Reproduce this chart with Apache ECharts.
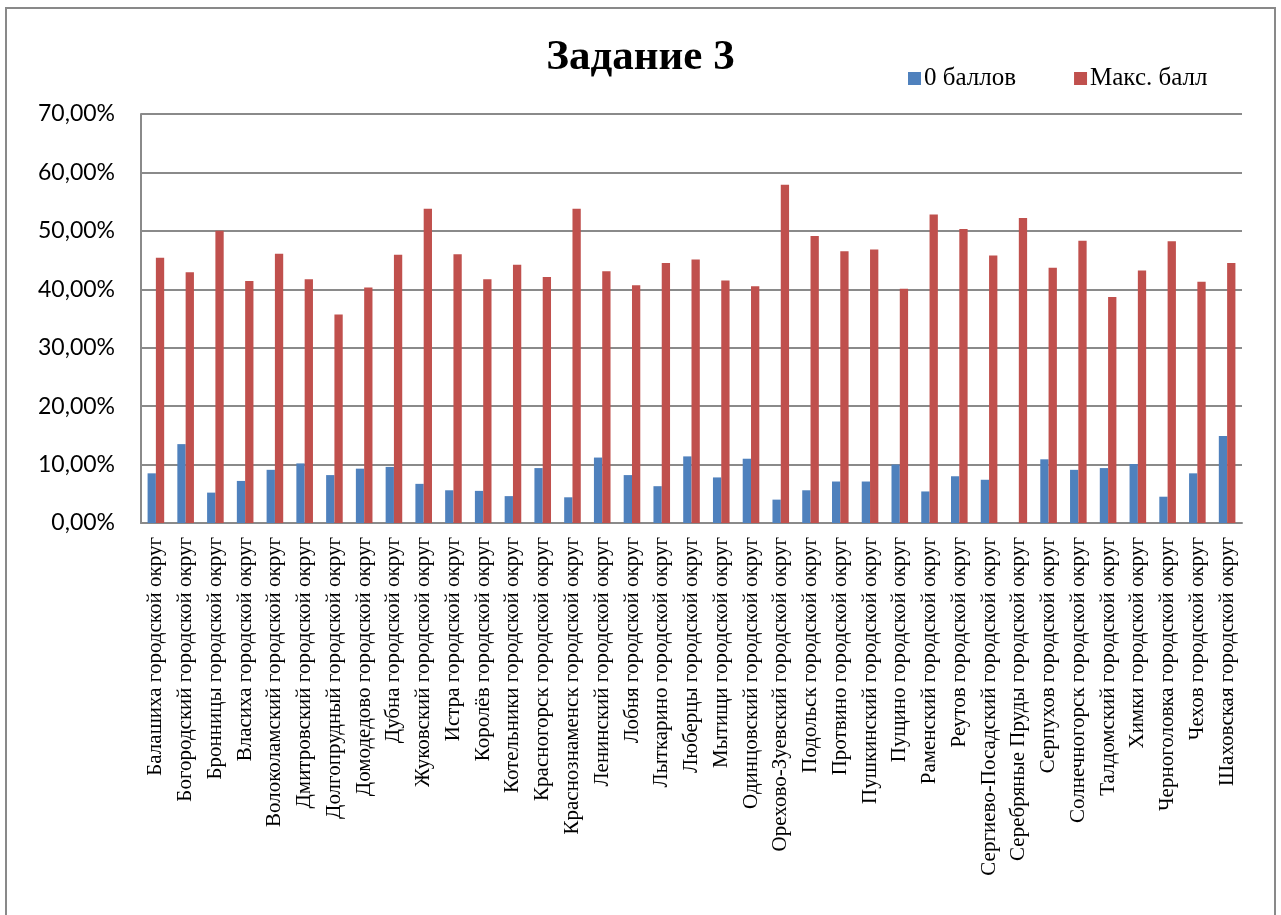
<!DOCTYPE html>
<html>
<head>
<meta charset="utf-8">
<script src="https://cdn.jsdelivr.net/npm/echarts@6/dist/echarts.min.js"></script>
<style>
  html, body { margin: 0; padding: 0; background: #fff; }
  #chart { width: 1281px; height: 915px; }
</style>
</head>
<body>
<div id="chart"></div>
<script>
  // городские округа
  const districts = [
    'Балашиха городской округ',
    'Богородский городской округ',
    'Бронницы городской округ',
    'Власиха городской округ',
    'Волоколамский городской округ',
    'Дмитровский городской округ',
    'Долгопрудный городской округ',
    'Домодедово городской округ',
    'Дубна городской округ',
    'Жуковский городской округ',
    'Истра городской округ',
    'Королёв городской округ',
    'Котельники городской округ',
    'Красногорск городской округ',
    'Краснознаменск городской округ',
    'Ленинский городской округ',
    'Лобня городской округ',
    'Лыткарино городской округ',
    'Люберцы городской округ',
    'Мытищи городской округ',
    'Одинцовский городской округ',
    'Орехово-Зуевский городской округ',
    'Подольск городской округ',
    'Протвино городской округ',
    'Пушкинский городской округ',
    'Пущино городской округ',
    'Раменский городской округ',
    'Реутов городской округ',
    'Сергиево-Посадский городской округ',
    'Серебряные Пруды городской округ',
    'Серпухов городской округ',
    'Солнечногорск городской округ',
    'Талдомский городской округ',
    'Химки городской округ',
    'Черноголовка городской округ',
    'Чехов городской округ',
    'Шаховская городской округ',
  ];

  // доля, %
  const zeroScore = [
    8.5, 13.5, 5.2, 7.2, 9.1, 10.2, 8.2, 9.3, 9.6, 6.7,
    5.6, 5.5, 4.6, 9.4, 4.4, 11.2, 8.2, 6.3, 11.4, 7.8,
    11.0, 4.0, 5.6, 7.1, 7.1, 10.0, 5.4, 8.0, 7.4, 0,
    10.9, 9.1, 9.4, 10.1, 4.5, 8.5, 14.9,
  ];
  const maxScore = [
    45.4, 42.9, 50.0, 41.4, 46.1, 41.7, 35.7, 40.3, 45.9, 53.8,
    46.0, 41.7, 44.2, 42.1, 53.8, 43.1, 40.7, 44.5, 45.1, 41.5,
    40.5, 57.9, 49.1, 46.5, 46.8, 40.1, 52.8, 50.3, 45.8, 52.2,
    43.7, 48.3, 38.7, 43.2, 48.2, 41.3, 44.5,
  ];

  const seriesNames = ['0 баллов', 'Макс. балл'];

  const myChart = echarts.init(document.getElementById('chart'));
  myChart.setOption({
    animation: false,
    backgroundColor: '#fff',
    graphic: [
      {
        type: 'rect',
        shape: { x: 6, y: 8, width: 1269, height: 1000 },
        style: { fill: 'none', stroke: '#898989', lineWidth: 2 },
        z: -1,
      },
    ],
    title: {
      text: 'Задание 3',
      left: 'center',
      top: 31,
      textStyle: {
        fontFamily: 'Liberation Serif',
        fontWeight: 'bold',
        fontSize: 43,
        color: '#000',
      },
    },
    legend: {
      left: 903,
      top: 61,
      icon: 'rect',
      itemWidth: 13,
      itemHeight: 13,
      itemGap: 58,
      textStyle: {
        fontFamily: 'Liberation Serif',
        fontSize: 25,
        color: '#000',
        padding: [0, 0, 0, -2],
      },
      data: seriesNames,
    },
    grid: {
      left: 141,
      right: 39,
      top: 114,
      bottom: 392,
    },
    xAxis: {
      type: 'category',
      data: districts,
      axisLine: { lineStyle: { color: '#8a8a8a', width: 2 } },
      axisTick: { show: false },
      axisLabel: {
        rotate: 90,
        interval: 0,
        margin: 14,
        fontFamily: 'Liberation Serif',
        fontSize: 21,
        color: '#000',
      },
    },
    yAxis: {
      type: 'value',
      min: 0,
      max: 70,
      interval: 10,
      axisLine: { show: true, lineStyle: { color: '#8a8a8a', width: 2 } },
      axisTick: { show: false },
      splitLine: { lineStyle: { color: '#8a8a8a', width: 2 } },
      axisLabel: {
        margin: 26,
        fontFamily: 'Lato',
        fontSize: 23,
        color: '#000',
        formatter: (v) => v.toFixed(2).replace('.', ',') + '%',
      },
    },
    series: [
      {
        name: seriesNames[0],
        type: 'bar',
        data: zeroScore,
        barWidth: 8.3,
        barGap: '0%',
        itemStyle: { color: '#4F81BD' },
      },
      {
        name: seriesNames[1],
        type: 'bar',
        data: maxScore,
        barWidth: 8.3,
        itemStyle: { color: '#C0504D' },
      },
    ],
  });
</script>
</body>
</html>
